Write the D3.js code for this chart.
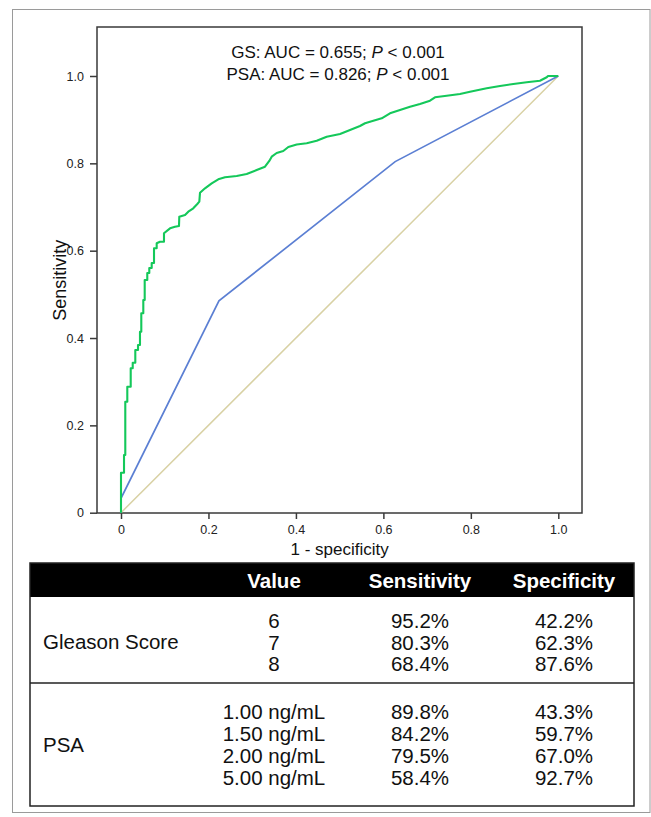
<!DOCTYPE html>
<html>
<head>
<meta charset="utf-8">
<script src="https://cdn.jsdelivr.net/npm/d3@7"></script>
<style>
  html, body { margin: 0; padding: 0; background: #fff; }
  svg { display: block; }
  text { font-family: "Liberation Sans", Arial, sans-serif; }
</style>
</head>
<body>
<svg id="chart" width="651" height="817"></svg>
<script>
// ---- Data ----
const xTicks = [0, 0.2, 0.4, 0.6, 0.8, 1.0];
const yTicks = [0, 0.2, 0.4, 0.6, 0.8, 1.0];

// PSA ROC curve (green): 1 - specificity, sensitivity
const psaFpr = [0, 0, 0.0069, 0.0069, 0.0098, 0.0098, 0.0144, 0.0144, 0.0222, 0.0222, 0.0268, 0.0268, 0.0327, 0.0327, 0.0389, 0.0389, 0.0434, 0.0434, 0.0464, 0.0464, 0.0510, 0.0510, 0.0542, 0.0542, 0.0601, 0.0601, 0.0647, 0.0647, 0.0702, 0.0702, 0.0755, 0.0755, 0.0816, 0.0816, 0.0892, 0.0983, 0.0983, 0.1121, 0.1235, 0.1326, 0.1333, 0.1464, 0.1539, 0.1653, 0.1745, 0.1791, 0.1807, 0.1921, 0.2074, 0.2225, 0.2378, 0.2646, 0.2874, 0.3103, 0.3293, 0.3391, 0.3446, 0.3560, 0.3711, 0.3826, 0.4018, 0.4247, 0.4475, 0.4704, 0.5009, 0.5237, 0.5465, 0.5580, 0.5694, 0.5962, 0.6151, 0.6380, 0.6609, 0.6837, 0.7066, 0.7180, 0.7448, 0.7752, 0.7981, 0.8363, 0.8667, 0.8971, 0.9277, 0.9581, 0.9735, 0.9765, 0.9886, 1.0];
const psaSens = [0, 0.0916, 0.0916, 0.1321, 0.1321, 0.2542, 0.2542, 0.2885, 0.2885, 0.3307, 0.3307, 0.3435, 0.3435, 0.3726, 0.3726, 0.3840, 0.3840, 0.4145, 0.4145, 0.4566, 0.4566, 0.4871, 0.4871, 0.5329, 0.5329, 0.5489, 0.5489, 0.5603, 0.5603, 0.5718, 0.5718, 0.6054, 0.6054, 0.6169, 0.6206, 0.6206, 0.6398, 0.6512, 0.6549, 0.6565, 0.6778, 0.6817, 0.6893, 0.6970, 0.7069, 0.7122, 0.7328, 0.7428, 0.7543, 0.7635, 0.7680, 0.7710, 0.7756, 0.7847, 0.7923, 0.8054, 0.8152, 0.8237, 0.8283, 0.8374, 0.8431, 0.8459, 0.8518, 0.8610, 0.8672, 0.8763, 0.8855, 0.8917, 0.8953, 0.9031, 0.9146, 0.9221, 0.9297, 0.9359, 0.9434, 0.9512, 0.9549, 0.9588, 0.9640, 0.9718, 0.9771, 0.9817, 0.9856, 0.9892, 0.9970, 1.0, 1.0, 1.0];

// Gleason score ROC curve (blue)
const gsFpr = [0, 0, 0.224, 0.627, 1.0];
const gsSens = [0, 0.033, 0.485, 0.804, 1.0];

// Reference diagonal
const refFpr = [0, 1];
const refSens = [0, 1];

// Annotation
const aucLabels = ["GS", "PSA"];
const aucValues = ["0.655", "0.826"];
const pLabels = ["< 0.001", "< 0.001"];

// Table
const tableHeaders = ["Value", "Sensitivity", "Specificity"];
const groupNames = ["Gleason Score", "PSA"];
const gsCutoffs = ["6", "7", "8"];
const gsSensPct = [95.2, 80.3, 68.4];
const gsSpecPct = [42.2, 62.3, 87.6];
const psaCutoffs = ["1.00 ng/mL", "1.50 ng/mL", "2.00 ng/mL", "5.00 ng/mL"];
const psaSensPct = [89.8, 84.2, 79.5, 58.4];
const psaSpecPct = [43.3, 59.7, 67.0, 92.7];

// ---- Drawing ----
const svg = d3.select("#chart");
const axisColor = "#3a3a3a";

// outer frame
svg.append("rect")
  .attr("x", 12.5).attr("y", 9.5).attr("width", 637.5).attr("height", 803)
  .attr("fill", "none").attr("stroke", "#9a9a9a").attr("stroke-width", 1);

const x = d3.scaleLinear().domain([0, 1]).range([121, 558.3]);
const y = d3.scaleLinear().domain([0, 1]).range([512.7, 76]);

const frame = { left: 97, top: 27, right: 582, bottom: 513 };

// x axis
const xAxis = svg.append("g")
  .attr("transform", `translate(0,${frame.bottom})`)
  .call(d3.axisBottom(x).tickValues(xTicks).tickSize(6).tickSizeOuter(0)
    .tickFormat(d => d === 0 ? "0" : d3.format(".1f")(d)));
xAxis.select(".domain").remove();
xAxis.selectAll(".tick line").attr("stroke", axisColor).attr("stroke-width", 1.5);
xAxis.selectAll(".tick text").attr("fill", "#222").attr("font-size", 12.5)
  .attr("font-family", "Liberation Sans, Arial, sans-serif").attr("dy", "0.95em");

// y axis
const yAxis = svg.append("g")
  .attr("transform", `translate(${frame.left},0)`)
  .call(d3.axisLeft(y).tickValues(yTicks).tickSize(7).tickSizeOuter(0)
    .tickFormat(d => d === 0 ? "0" : d3.format(".1f")(d)));
yAxis.select(".domain").remove();
yAxis.selectAll(".tick line").attr("stroke", axisColor).attr("stroke-width", 1.5);
yAxis.selectAll(".tick text").attr("fill", "#222").attr("font-size", 12.5)
  .attr("font-family", "Liberation Sans, Arial, sans-serif").attr("x", -13);

// plot frame
svg.append("rect")
  .attr("x", frame.left).attr("y", frame.top)
  .attr("width", frame.right - frame.left).attr("height", frame.bottom - frame.top)
  .attr("fill", "none").attr("stroke", axisColor).attr("stroke-width", 1.5);

// axis titles
svg.append("text").attr("x", (x(0) + x(1)) / 2).attr("y", 555)
  .attr("text-anchor", "middle").attr("font-size", 17).attr("fill", "#111")
  .text("1 - specificity");
svg.append("text")
  .attr("transform", `translate(66,${(y(0) + y(1)) / 2 - 14}) rotate(-90)`)
  .attr("text-anchor", "middle").attr("font-size", 18).attr("fill", "#111")
  .text("Sensitivity");

const line = d3.line().x(d => x(d[0])).y(d => y(d[1]));

// reference diagonal
svg.append("path").datum(refFpr.map((f, i) => [f, refSens[i]]))
  .attr("d", line).attr("fill", "none").attr("stroke", "#d8d1a4").attr("stroke-width", 1.5);

// GS curve
svg.append("path").datum(gsFpr.map((f, i) => [f, gsSens[i]]))
  .attr("d", line).attr("fill", "none").attr("stroke", "#5b7fd3").attr("stroke-width", 1.7);

// PSA curve
svg.append("path").datum(psaFpr.map((f, i) => [f, psaSens[i]]))
  .attr("d", line).attr("fill", "none").attr("stroke", "#14c85a").attr("stroke-width", 2.1)
  .attr("stroke-linejoin", "round");

// AUC annotation
aucLabels.forEach((lab, i) => {
  const t = svg.append("text").attr("x", 338).attr("y", 58 + i * 21.5)
    .attr("text-anchor", "middle").attr("font-size", 17).attr("fill", "#111");
  t.append("tspan").text(`${lab}: AUC = ${aucValues[i]}; `);
  t.append("tspan").attr("font-style", "italic").text("P");
  t.append("tspan").text(` ${pLabels[i]}`);
});

// ---- Table ----
const tbl = { left: 30, right: 634, top: 563, headerBottom: 597, divider: 683, bottom: 806 };
const colX = [274, 420, 564];
const tFont = 20.5;

svg.append("rect").attr("x", tbl.left).attr("y", tbl.top)
  .attr("width", tbl.right - tbl.left).attr("height", tbl.headerBottom - tbl.top)
  .attr("fill", "#000");
tableHeaders.forEach((h, i) => {
  svg.append("text").attr("x", colX[i]).attr("y", 587.5)
    .attr("text-anchor", "middle").attr("font-size", tFont).attr("font-weight", "bold")
    .attr("fill", "#fff").text(h);
});
svg.append("rect").attr("x", tbl.left).attr("y", tbl.top)
  .attr("width", tbl.right - tbl.left).attr("height", tbl.bottom - tbl.top)
  .attr("fill", "none").attr("stroke", "#222").attr("stroke-width", 1.5);
svg.append("line").attr("x1", tbl.left).attr("x2", tbl.right)
  .attr("y1", tbl.divider).attr("y2", tbl.divider)
  .attr("stroke", "#222").attr("stroke-width", 1.5);

function drawGroup(name, cutoffs, sens, spec, firstBaseline, step, nameBaseline) {
  svg.append("text").attr("x", 43).attr("y", nameBaseline)
    .attr("font-size", tFont).attr("fill", "#111").text(name);
  cutoffs.forEach((c, i) => {
    const yy = firstBaseline + i * step;
    [c, sens[i].toFixed(1) + "%", spec[i].toFixed(1) + "%"].forEach((v, j) => {
      svg.append("text").attr("x", colX[j]).attr("y", yy)
        .attr("text-anchor", "middle").attr("font-size", tFont).attr("fill", "#111").text(v);
    });
  });
}
drawGroup(groupNames[0], gsCutoffs, gsSensPct, gsSpecPct, 628, 21.5, 649);
drawGroup(groupNames[1], psaCutoffs, psaSensPct, psaSpecPct, 718.5, 22, 751.5);
</script>
</body>
</html>
